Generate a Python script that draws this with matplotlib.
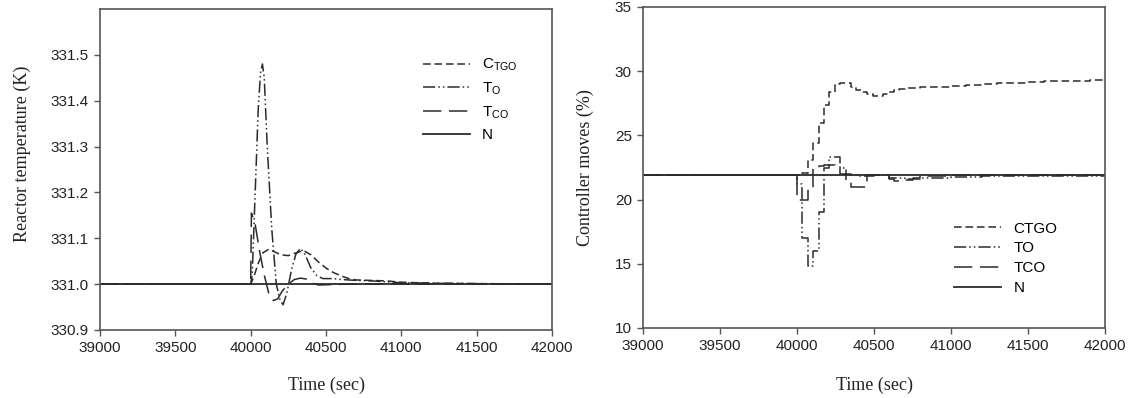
import numpy as np
import matplotlib
matplotlib.use("Agg")
import matplotlib.pyplot as plt

plt.rcParams["font.family"] = "Liberation Sans"
plt.rcParams["mathtext.fontset"] = "custom"
plt.rcParams["mathtext.rm"] = "Liberation Sans"

# ---- left panel: reactor temperature (K) ----
t_ctgo = [39000, 40000, 40020, 40050, 40080, 40120, 40160, 40200, 40250, 40300,
          40350, 40400, 40450, 40500, 40550, 40600, 40650, 40700, 40800, 40900,
          41000, 41200, 41500, 42000]
T_ctgo = [331.0, 331.0, 331.015, 331.045, 331.068, 331.076, 331.07, 331.064, 331.062, 331.068,
          331.073, 331.064, 331.048, 331.035, 331.025, 331.018, 331.012, 331.009, 331.008, 331.007,
          331.004, 331.002, 331.001, 331.0]

t_to = [39000, 40000, 40010, 40030, 40050, 40065, 40078, 40090, 40110, 40140,
        40170, 40195, 40215, 40240, 40270, 40300, 40330, 40360, 40400, 40440,
        40480, 40550, 40600, 40700, 40800, 40900, 41000, 41200, 41500, 42000]
T_to = [331.0, 331.0, 331.02, 331.2, 331.38, 331.46, 331.48, 331.45, 331.3, 331.12,
        331.0, 330.965, 330.955, 330.98, 331.03, 331.065, 331.078, 331.065, 331.035, 331.018,
        331.012, 331.012, 331.01, 331.008, 331.007, 331.005, 331.003, 331.002, 331.001, 331.0]

t_tco = [39000, 40000, 40005, 40030, 40060, 40090, 40120, 40150, 40180, 40210,
         40250, 40290, 40330, 40370, 40410, 40450, 40550, 40650, 42000]
T_tco = [331.0, 331.0, 331.155, 331.13, 331.07, 331.02, 330.98, 330.964, 330.968, 330.985,
         331.0, 331.01, 331.013, 331.011, 331.002, 330.998, 330.999, 331.0, 331.0]

t_n = [39000, 42000]
T_n = [331.0, 331.0]

# ---- right panel: controller moves (%) ----
t_ctgo_u = [39000, 40000, 40035, 40070, 40105, 40140, 40175, 40210, 40245, 40280,
            40315, 40350, 40385, 40420, 40455, 40490, 40525, 40560, 40595, 40630,
            40665, 40700, 40800, 40900, 41000, 41100, 41200, 41300, 41400, 41500,
            41600, 41700, 41800, 41900, 42000]
u_ctgo = [21.9, 21.9, 22.1, 23.1, 24.4, 26.0, 27.4, 28.4, 29.0, 29.1,
          29.05, 28.8, 28.55, 28.4, 28.2, 28.1, 28.1, 28.25, 28.4, 28.5,
          28.6, 28.65, 28.75, 28.8, 28.85, 28.95, 29.0, 29.05, 29.1, 29.15,
          29.2, 29.2, 29.25, 29.3, 29.3]

t_to_u = [39000, 40000, 40035, 40070, 40105, 40140, 40175, 40210, 40245, 40280,
          40315, 40350, 40400, 40500, 40600, 40700, 40800, 40900, 41000, 41200,
          41500, 42000]
u_to = [21.9, 21.2, 17.0, 14.8, 16.0, 19.0, 22.45, 23.35, 23.35, 22.45,
        22.0, 21.9, 21.85, 21.9, 21.7, 21.6, 21.7, 21.65, 21.75, 21.85,
        21.85, 21.85]

t_tco_u = [39000, 40000, 40035, 40070, 40105, 40140, 40175, 40210, 40245, 40280,
           40315, 40350, 40385, 40420, 40455, 40490, 40525, 40560, 40595, 40630,
           40665, 40700, 40750, 40800, 40900, 41000, 42000]
u_tco = [21.9, 20.0, 20.0, 20.8, 22.45, 22.6, 22.7, 22.7, 22.45, 22.0,
         21.4, 21.0, 21.0, 21.0, 21.9, 21.95, 21.95, 21.9, 21.6, 21.45,
         21.45, 21.5, 21.65, 21.8, 21.85, 21.9, 21.9]

t_n_u = [39000, 42000]
u_n = [21.9, 21.9]

line_col = "#2b2b2b"
frame_col = "#555555"
styles = {
    "ctgo": (0, (5, 2.5)),
    "to": (0, (8, 2, 1, 2, 1, 2)),
    "tco": (0, (12, 5)),
    "n": "-",
}

fig = plt.figure(figsize=(11.3, 3.98), dpi=100)
ax1 = fig.add_axes([0.0885, 0.171, 0.4, 0.8065])
ax2 = fig.add_axes([0.569, 0.176, 0.409, 0.8065])

ax1.plot(t_ctgo, T_ctgo, color=line_col, lw=1.1, ls=styles["ctgo"], label=r"$\mathregular{C_{TGO}}$")
ax1.plot(t_to, T_to, color=line_col, lw=1.1, ls=styles["to"], label=r"$\mathregular{T_{O}}$")
ax1.plot(t_tco, T_tco, color=line_col, lw=1.1, ls=styles["tco"], label=r"$\mathregular{T_{CO}}$")
ax1.plot(t_n, T_n, color=line_col, lw=1.3, ls=styles["n"], label="N")

ax2.plot(t_ctgo_u, u_ctgo, color=line_col, lw=1.1, ls=styles["ctgo"], drawstyle="steps-post", label="CTGO")
ax2.plot(t_to_u, u_to, color=line_col, lw=1.1, ls=styles["to"], drawstyle="steps-post", label="TO")
ax2.plot(t_tco_u, u_tco, color=line_col, lw=1.1, ls=styles["tco"], drawstyle="steps-post", label="TCO")
ax2.plot(t_n_u, u_n, color=line_col, lw=1.3, ls=styles["n"], label="N")

ax1.set_xlim(39000, 42000)
ax1.set_ylim(330.9, 331.6)
ax1.set_yticks([330.9, 331.0, 331.1, 331.2, 331.3, 331.4, 331.5])
ax1.set_yticklabels(["330.9", "331.0", "331.1", "331.2", "331.3", "331.4", "331.5"])
ax2.set_xlim(39000, 42000)
ax2.set_ylim(10, 35)
ax2.set_yticks([10, 15, 20, 25, 30, 35])

for ax in (ax1, ax2):
    ax.set_xticks([39000, 39500, 40000, 40500, 41000, 41500, 42000])
    ax.tick_params(direction="out", length=4, width=1, color=frame_col,
                   labelcolor="#222222", labelsize=11, pad=4)
    for s in ax.spines.values():
        s.set_color(frame_col)
        s.set_linewidth(1.2)
    ax.set_xlabel("Time (sec)", family="Liberation Serif", fontsize=13, color="#222222")

ax1.set_ylabel("Reactor temperature (K)", family="Liberation Serif", fontsize=13, color="#222222")
ax2.set_ylabel("Controller moves (%)", family="Liberation Serif", fontsize=13, color="#222222")
ax1.yaxis.set_label_coords(-0.153, 0.55)
ax2.yaxis.set_label_coords(-0.106, 0.5)
ax1.xaxis.set_label_coords(0.5, -0.147)
ax2.xaxis.set_label_coords(0.5, -0.153)

ax1.legend(loc="upper left", bbox_to_anchor=(0.374, 0.857), bbox_transform=fig.transFigure,
           frameon=False, fontsize=11, handlelength=3.1, handletextpad=0.8,
           labelspacing=0.48, borderpad=0, borderaxespad=0)
ax2.legend(loc="upper left", bbox_to_anchor=(0.844, 0.443), bbox_transform=fig.transFigure,
           frameon=False, fontsize=11, handlelength=3.1, handletextpad=0.8,
           labelspacing=0.38, borderpad=0, borderaxespad=0)

fig.savefig("out.png", dpi=100)
